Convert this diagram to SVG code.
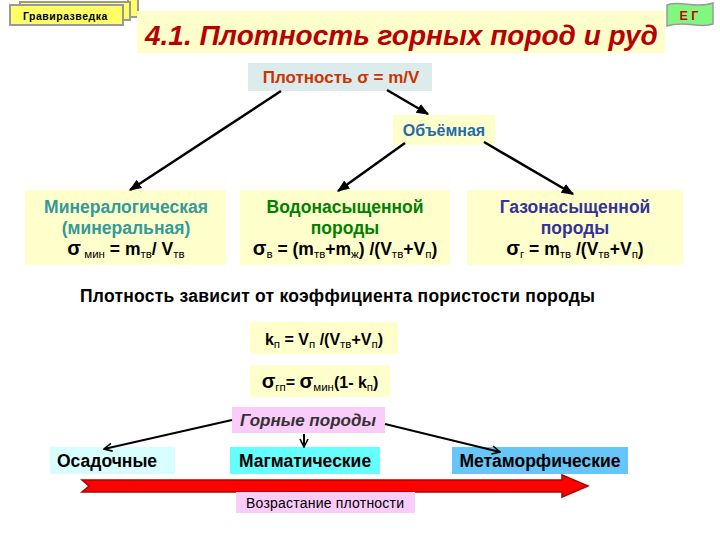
<svg xmlns="http://www.w3.org/2000/svg" width="720" height="540" viewBox="0 0 720 540">
<style>
  text { font-family: "Liberation Sans", Arial, sans-serif; font-weight: bold; }
  .lbl { font-size: 17.5px; text-anchor: middle; }
  .f { font-size: 17.5px; fill: #000; text-anchor: middle; }
  .f2 { font-size: 16px; fill: #000; text-anchor: middle; }
  .s { font-size: 11.5px; font-weight: normal; }
  .sg { font-size: 20px; }
  .ybox { fill: #FFFFCC; }
  .conn { stroke: #000; stroke-width: 2.5; fill: none; }
  .open { stroke: #000; stroke-width: 2; fill: none; }
  .tab { fill: #FFFF66; stroke: #999999; stroke-width: 2; }
  .bt { font-size: 17.5px; fill: #000; }
</style>
<defs>
  <marker id="ah" viewBox="0 0 10 10" refX="9" refY="5" markerWidth="5" markerHeight="5" orient="auto" markerUnits="strokeWidth">
    <path d="M0,1 L10,5 L0,9 Z" fill="#000"/>
  </marker>
  <marker id="av" viewBox="0 0 10 10" refX="9" refY="5" markerWidth="5" markerHeight="5" orient="auto" markerUnits="strokeWidth">
    <path d="M1,1 L9,5 L1,9" fill="none" stroke="#000" stroke-width="1.6"/>
  </marker>
</defs>
<rect width="720" height="540" fill="#FFFFFF"/>

<g id="tabs">
  <rect class="tab" x="128" y="-2" width="10" height="19"/>
  <rect class="tab" x="20" y="2" width="110" height="18"/>
  <rect class="tab" x="10" y="5" width="113" height="20"/>
  <text x="23" y="20" style="font-size:10.5px;letter-spacing:0.5px" fill="#000">Гравиразведка</text>
</g>

<g id="flag">
  <path d="M667,5 C680,0 695,9 713,3 L713,24 C700,29 685,20 667,26 Z" fill="#80F880" stroke="#999999" stroke-width="1.5"/>
  <text x="689" y="20" style="font-size:12.5px" fill="#CC0000" text-anchor="middle">Е Г</text>
</g>

<g id="title">
  <rect x="137" y="11" width="528" height="42" fill="#FFFFCC"/>
  <text x="145" y="45" style="font-size:28px;font-style:italic" fill="#B80000">4.1. Плотность горных пород и руд</text>
</g>

<g id="density">
  <rect x="248" y="63" width="184" height="28" fill="#DCECEC"/>
  <text class="lbl" x="341" y="83" fill="#CC3300" style="font-size:17px">Плотность  σ = m/V</text>
</g>

<g id="volume">
  <rect class="ybox" x="393" y="115" width="102" height="30"/>
  <text x="444" y="136" style="font-size:16px;text-anchor:middle" fill="#1F6BB0">Объёмная</text>
</g>

<g id="mineral">
  <rect class="ybox" x="25" y="190" width="201" height="75"/>
  <text class="lbl" x="126" y="213" fill="#339999">Минералогическая</text>
  <text class="lbl" x="126" y="234" fill="#339999">(минеральная)</text>
  <text class="f" x="126" y="255"><tspan class="sg">σ</tspan><tspan class="s" dy="3"> мин</tspan><tspan dy="-3"> = m</tspan><tspan class="s" dy="3">тв</tspan><tspan dy="-3">/ V</tspan><tspan class="s" dy="3">тв</tspan></text>
</g>

<g id="water">
  <rect class="ybox" x="240" y="190" width="210" height="75"/>
  <text class="lbl" x="345" y="213" fill="#008000">Водонасыщенной</text>
  <text class="lbl" x="345" y="234" fill="#008000">породы</text>
  <text class="f" x="345" y="255"><tspan class="sg">σ</tspan><tspan class="s" dy="3">в</tspan><tspan dy="-3"> = (m</tspan><tspan class="s" dy="3">тв</tspan><tspan dy="-3">+m</tspan><tspan class="s" dy="3">ж</tspan><tspan dy="-3">) /(V</tspan><tspan class="s" dy="3">тв</tspan><tspan dy="-3">+V</tspan><tspan class="s" dy="3">п</tspan><tspan dy="-3">)</tspan></text>
</g>

<g id="gas">
  <rect class="ybox" x="467" y="190" width="216" height="75"/>
  <text class="lbl" x="575" y="213" fill="#333399">Газонасыщенной</text>
  <text class="lbl" x="575" y="234" fill="#333399">породы</text>
  <text class="f" x="575" y="255"><tspan class="sg">σ</tspan><tspan class="s" dy="3">г</tspan><tspan dy="-3"> = m</tspan><tspan class="s" dy="3">тв</tspan><tspan dy="-3"> /(V</tspan><tspan class="s" dy="3">тв</tspan><tspan dy="-3">+V</tspan><tspan class="s" dy="3">п</tspan><tspan dy="-3">)</tspan></text>
</g>

<g id="note">
  <text x="80" y="302" textLength="515" style="font-size:17.5px" fill="#000">Плотность зависит от коэффициента пористости породы</text>
</g>

<g id="kp">
  <rect class="ybox" x="250" y="322" width="148" height="32"/>
  <text class="f2" x="324" y="345">k<tspan class="s" dy="3">п</tspan><tspan dy="-3"> = V</tspan><tspan class="s" dy="3">п</tspan><tspan dy="-3"> /(V</tspan><tspan class="s" dy="3">тв</tspan><tspan dy="-3">+V</tspan><tspan class="s" dy="3">п</tspan><tspan dy="-3">)</tspan></text>
</g>

<g id="sgp">
  <rect class="ybox" x="250" y="365" width="140" height="32"/>
  <text class="f2" x="320" y="388"><tspan class="sg">σ</tspan><tspan class="s" dy="3">гп</tspan><tspan dy="-3">= </tspan><tspan class="sg">σ</tspan><tspan class="s" dy="3">мин</tspan><tspan dy="-3">(1- k</tspan><tspan class="s" dy="3">п</tspan><tspan dy="-3">)</tspan></text>
</g>

<g id="rocks">
  <rect x="232" y="407" width="153" height="26" fill="#FACCFA"/>
  <text x="308" y="426" style="font-size:17px;font-style:italic;text-anchor:middle" fill="#333333">Горные породы</text>
</g>

<g id="sedimentary">
  <rect x="50" y="447" width="125" height="27" fill="#D8FFFF"/>
  <text class="bt" x="57" y="467">Осадочные</text>
</g>

<g id="magmatic">
  <rect x="230" y="447" width="150" height="27" fill="#66FFFF"/>
  <text class="bt" x="305" y="467" text-anchor="middle">Магматические</text>
</g>

<g id="metamorphic">
  <rect x="452" y="447" width="176" height="27" fill="#66C6F8"/>
  <text class="bt" x="540" y="467" text-anchor="middle">Метаморфические</text>
</g>

<g id="density-arrow">
  <polygon points="82,480 562,480 562,475 588,486 562,497 562,492 82,492 89,486" fill="#FF0000" stroke="#B00000" stroke-width="1.5"/>
</g>

<g id="increase">
  <rect x="236" y="492" width="179" height="21" fill="#FACCFA"/>
  <text x="325" y="508" textLength="158" style="font-size:14px;font-weight:normal;text-anchor:middle;font-family:'Liberation Sans Narrow','Liberation Sans',sans-serif" fill="#000">Возрастание плотности</text>
</g>

<g id="connectors">
  <line class="conn" x1="281" y1="91" x2="130" y2="190" marker-end="url(#ah)"/>
  <line class="conn" x1="387" y1="90" x2="428" y2="114" marker-end="url(#ah)"/>
  <line class="conn" x1="405" y1="143" x2="338" y2="191" marker-end="url(#ah)"/>
  <line class="conn" x1="484" y1="142" x2="573" y2="194" marker-end="url(#ah)"/>
  <line class="open" x1="232" y1="420" x2="104" y2="449" marker-end="url(#av)"/>
  <line class="open" x1="304" y1="434" x2="304" y2="447" marker-end="url(#av)"/>
  <line class="open" x1="385" y1="424" x2="500" y2="452" marker-end="url(#av)"/>
</g>
</svg>
